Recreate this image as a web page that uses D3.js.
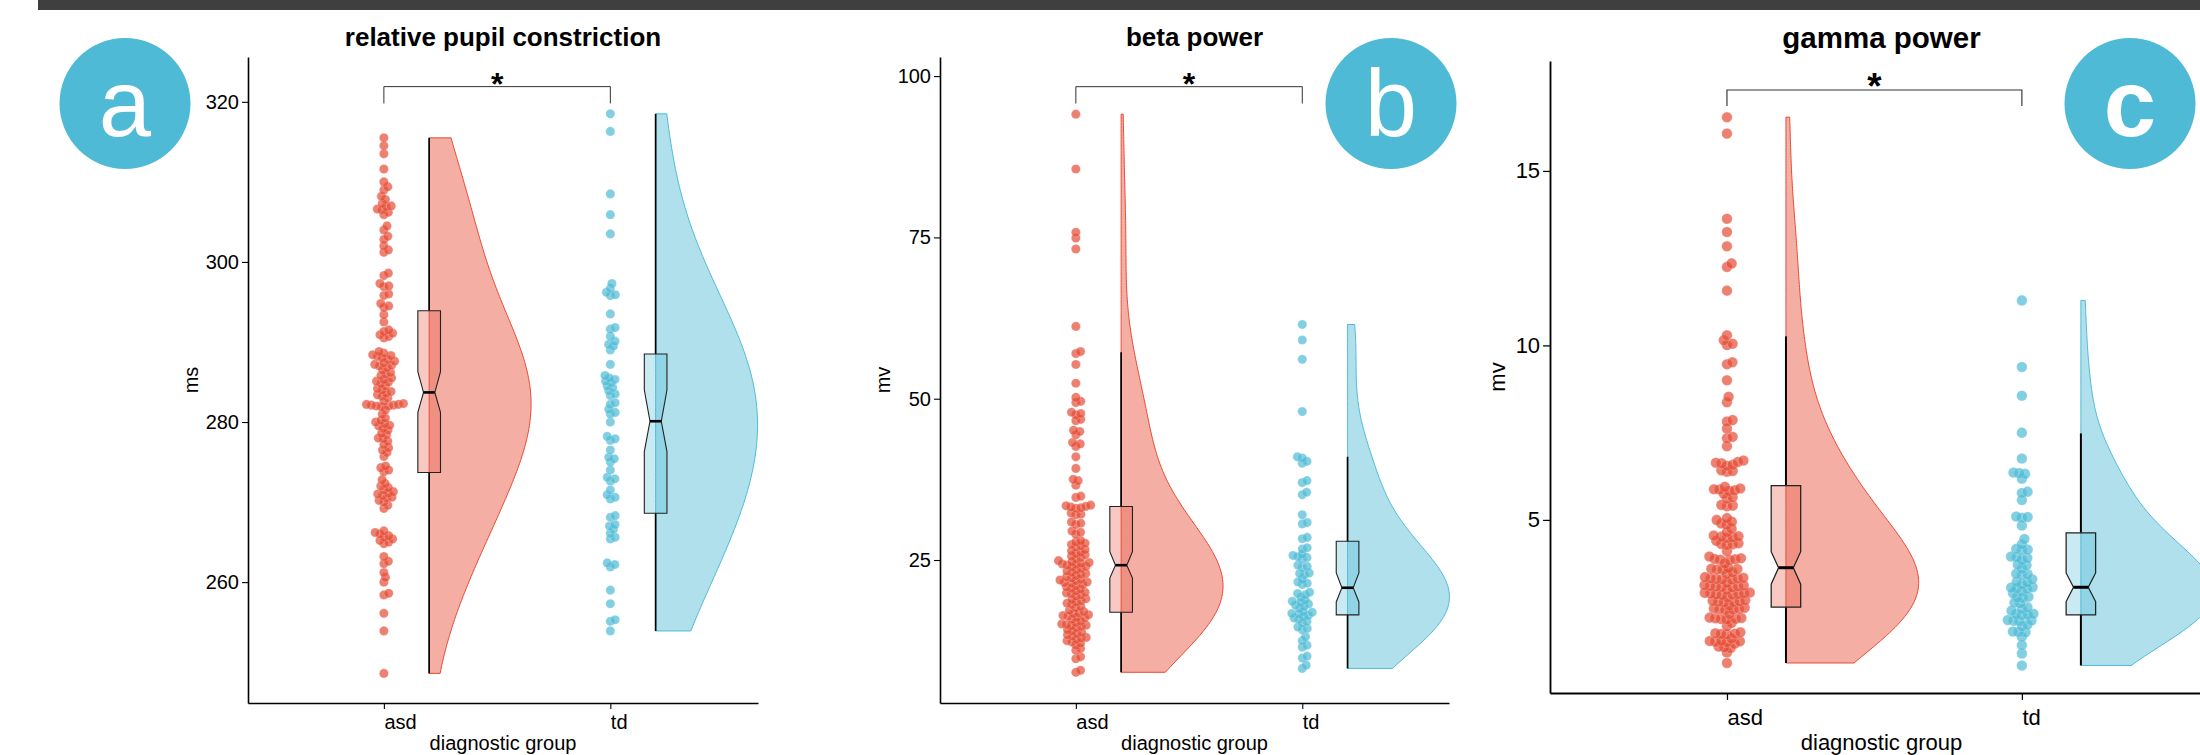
<!DOCTYPE html>
<html>
<head>
<meta charset="utf-8">
<script src="https://cdn.jsdelivr.net/npm/d3@7"></script>
<style>
  body { margin: 0; background: #fff; }
  svg { display: block; }
  text { font-family: "Liberation Sans", Arial, Helvetica, sans-serif; }
</style>
</head>
<body>
<svg width="2200" height="755"></svg>
<script>
const groups = ["asd", "td"];
const titles = ["relative pupil constriction", "beta power", "gamma power"];
const yLabels = ["ms", "mv", "mv"];
const badges = ["a", "b", "c"];
const yTicks = [[260, 280, 300, 320], [25, 50, 75, 100], [5, 10, 15]];
const xLabel = "diagnostic group";

// values
const pupilAsd = [315.5, 314.5, 313.5, 311.6, 310.0, 309.4, 309.0, 308.2, 307.8, 307.3, 307.0, 306.9, 306.6, 306.5, 306.2, 305.9, 304.5, 304.0, 303.2, 302.8, 302.0, 301.5, 301.2,
  298.6, 298.3, 297.3, 297.0, 296.9, 296.0, 295.8, 294.8, 294.5, 294.3, 293.4, 292.5, 291.5, 291.3, 291.1, 290.9, 290.7, 290.5,
  288.8, 288.6, 288.4, 288.3, 288.2, 288.0, 287.8, 287.6, 287.4, 287.2, 287.1, 287.0, 286.8, 286.5, 286.2, 286.0, 285.8, 285.5, 285.3, 285.1, 285.0, 284.8, 284.5, 284.2, 284.0, 283.8, 283.6, 283.4, 283.2, 283.0,
  282.6, 282.0, 282.1, 282.1, 282.2, 282.2, 282.3, 282.0, 281.9, 281.5,
  281.0, 280.5, 280.2, 280.0, 279.8, 279.6, 279.5, 279.2, 279.0, 278.6, 278.4, 278.0, 277.9, 277.6, 277.2, 276.8, 276.5, 276.2, 275.7,
  274.5, 274.3, 274.0, 273.8, 272.8,
  272.3, 272.0, 271.8, 271.5, 271.3, 271.1, 271.0, 270.8, 270.6, 270.5, 270.2, 270.0, 269.6, 269.2,
  266.4, 266.2, 266.0, 265.8, 265.6, 265.4, 265.2, 265.0, 264.8,
  263.2, 262.6, 262.3, 261.2, 260.6, 260.0, 258.6, 258.4, 256.1, 253.9, 248.6];
const pupilTd = [318.5, 316.3, 308.5, 305.9, 303.5, 297.3, 296.7, 296.2, 295.9, 295.8, 293.5, 291.8, 291.6, 290.7, 290.1, 289.7, 289.5, 289.0, 287.2,
  285.8, 285.5, 285.3, 285.1, 284.9, 284.5, 284.3, 283.9, 283.5, 283.3, 282.4, 282.2, 281.6, 281.2, 281.0, 280.0, 278.2, 277.9, 277.7, 276.5,
  275.6, 275.4, 275.0, 274.0, 273.1, 272.9, 272.6, 271.5, 270.9, 270.6, 270.4, 268.3, 268.1, 267.2, 267.0, 266.6, 266.1, 265.6, 265.4,
  262.4, 262.2, 261.9, 259.0, 257.3, 255.3, 255.1, 253.9];
const betaAsd = [94.1, 85.6, 75.8, 74.9, 73.2, 61.2, 57.3, 57.0, 55.3, 52.4, 50.2, 49.6, 49.4, 47.9, 47.7, 47.5, 46.8, 46.6, 45.1, 44.9, 44.4, 43.2, 43.0, 42.6, 41.0, 39.2, 37.5, 37.3, 36.6, 34.9, 34.7,
  33.5, 33.4, 33.3, 33.2, 33.1, 33.0, 32.3, 32.1, 32.0, 30.9, 30.7, 30.5, 29.5, 29.3, 29.0,
  28.0, 27.8, 27.6, 27.4, 27.2, 27.0, 26.6, 26.4, 26.2, 26.0, 25.8, 25.6, 25.4, 25.2, 24.9, 24.7, 24.6, 24.5, 24.4, 24.3, 24.2, 24.0, 23.9, 23.7, 23.5,
  23.3, 23.1, 22.9, 22.8, 22.6, 22.4, 22.2, 22.0, 21.9, 21.8, 21.6, 21.5, 21.4, 21.2, 21.0, 20.8, 20.6, 20.5, 20.2, 20.0, 19.9, 19.8, 19.6, 19.4, 19.0,
  18.9, 18.7, 18.5, 18.3, 18.1, 17.8, 17.6, 17.2, 17.0, 16.8, 16.7, 16.5, 16.4, 16.3, 16.1, 16.0, 15.8, 15.5, 15.3, 15.1, 15.0, 14.9, 14.8, 14.7, 14.5,
  14.2, 14.0, 13.8, 13.6, 13.4, 13.2, 13.0, 12.9, 12.7, 12.5, 12.3, 12.1, 11.8, 11.3, 11.0, 10.0, 9.7, 7.9, 7.6];
const betaTd = [61.5, 59.1, 56.1, 48.0, 41.0, 40.8, 40.3, 40.0, 37.3, 37.0, 35.5, 35.1, 32.0, 30.8, 30.6, 28.5, 28.3, 26.9, 26.7, 25.9, 25.7, 25.5, 25.4, 25.1,
  24.2, 24.0, 23.8, 23.0, 22.9, 22.7, 22.0, 21.6, 21.4, 21.2, 20.0, 19.8, 19.6, 19.2, 18.8, 18.6, 18.4, 18.2, 18.0, 17.8, 17.5,
  17.0, 16.9, 16.7, 16.6, 16.4, 16.2, 16.0, 15.8, 15.5, 15.2, 14.6, 14.4, 14.2, 13.1, 12.5, 11.8, 11.5, 10.1, 9.8, 8.7, 8.2];
const gammaAsd = [16.54, 16.07, 13.63, 13.25, 12.84, 12.35, 12.25, 11.57, 10.29, 10.15, 10.05, 10.01, 9.52, 9.46, 9.00, 8.53, 8.37, 7.86, 7.82, 7.62, 7.38, 7.34, 7.11,
  6.70, 6.66, 6.64, 6.62, 6.58, 6.55, 6.42, 6.40, 6.38,
  5.95, 5.90, 5.88, 5.87, 5.85, 5.83, 5.75, 5.65, 5.61, 5.43, 5.41, 5.39,
  5.05, 5.00, 4.95, 4.90, 4.86, 4.75, 4.65, 4.55, 4.53, 4.52, 4.50, 4.48, 4.40, 4.33, 4.31, 4.30, 4.28, 4.10,
  3.95, 3.90, 3.88, 3.87, 3.86, 3.85, 3.75, 3.62, 3.60, 3.59, 3.58, 3.57, 3.50, 3.45,
  3.36, 3.34, 3.33, 3.32, 3.31, 3.30, 3.29, 3.20, 3.13, 3.12, 3.11, 3.10, 3.09, 3.08, 3.07, 3.00,
  2.92, 2.91, 2.90, 2.89, 2.88, 2.87, 2.86, 2.85, 2.78, 2.70, 2.68, 2.67, 2.66, 2.65, 2.64, 2.55,
  2.48, 2.46, 2.45, 2.44, 2.43, 2.42, 2.30, 2.20, 2.19, 2.18, 2.17, 2.16, 2.15, 2.05, 1.95,
  1.78, 1.75, 1.74, 1.73, 1.72, 1.60, 1.54, 1.53, 1.52, 1.51, 1.50, 1.45, 1.37, 1.35, 1.33, 1.20, 0.90];
const gammaTd = [11.29, 9.38, 8.56, 7.50, 6.76, 6.36, 6.34, 6.32, 6.18, 5.81, 5.77, 5.57, 5.10, 5.08, 5.06, 4.84, 4.45, 4.30,
  4.17, 4.15, 4.13, 3.95, 3.93, 3.91, 3.85, 3.72, 3.70, 3.60, 3.46, 3.44, 3.42, 3.30, 3.23, 3.21, 3.15, 3.07, 3.06, 3.04, 3.03,
  2.95, 2.90, 2.80, 2.78, 2.76, 2.63, 2.61, 2.50, 2.45, 2.40, 2.31, 2.30, 2.28, 2.27, 2.13, 2.12, 2.11, 2.10, 2.00, 1.95,
  1.80, 1.79, 1.78, 1.65, 1.41, 1.17, 0.83];

// box stats: [lower whisker, q1, notch low, median, notch high, q3, upper whisker]
const pupilBoxAsd = [248.6, 273.7, 281.2, 283.7, 286.3, 293.9, 315.5];
const pupilBoxTd = [253.9, 268.6, 276.3, 280.1, 284.0, 288.5, 318.5];
const betaBoxAsd = [7.6, 16.9, 22.2, 24.2, 26.3, 33.3, 57.2];
const betaBoxTd = [8.2, 16.5, 18.5, 20.7, 23.0, 27.9, 41.0];
const gammaBoxAsd = [0.90, 2.50, 3.16, 3.63, 4.09, 5.98, 10.26];
const gammaBoxTd = [0.83, 2.28, 2.66, 3.07, 3.48, 4.63, 7.48];

// significance bracket, in data units: [line level, tick end]
const brackets = [[321.9, 319.8], [98.36, 95.75], [17.32, 16.86]];
const sigLabel = "*";

const values = [[pupilAsd, pupilTd], [betaAsd, betaTd], [gammaAsd, gammaTd]];
const boxes = [[pupilBoxAsd, pupilBoxTd], [betaBoxAsd, betaBoxTd], [gammaBoxAsd, gammaBoxTd]];

const colors = ["#E64B35", "#4DBBD5"];
const bwAdjust = 1.9;

const layout = [
  { left: 248, right: 758, top: 57, bottom: 703, yDomain: [244.9, 325.6], xDomain: [0.4, 2.652], k: 1, font: 20, titleSize: 26, titleY: 46, yLabelX: 198, tickPad: 6, xTitleY: 750, badge: [125, 103.5] },
  { left: 940, right: 1449, top: 57, bottom: 703, yDomain: [2.84, 102.96], xDomain: [0.4, 2.648], k: 1, font: 20, titleSize: 26, titleY: 46, yLabelX: 889.7, tickPad: 6, xTitleY: 750, badge: [1391, 103.5] },
  { left: 1550, right: 2213, top: 61, bottom: 693, yDomain: [0.04, 18.15], xDomain: [0.4, 2.648], k: 1.15, font: 22, titleSize: 29.5, titleY: 48, yLabelX: 1505, tickPad: 9, xTitleY: 749.5, badge: [2130, 103.5] }
];

const svg = d3.select("svg");

svg.append("rect")
  .attr("x", 38).attr("y", 0)
  .attr("width", 2200 - 38).attr("height", 10)
  .attr("fill", "#3f3f3f");

function nrd0(v) {
  const s = v.slice().sort(d3.ascending);
  const iqr = d3.quantileSorted(s, 0.75) - d3.quantileSorted(s, 0.25);
  const sd = d3.deviation(v);
  return 0.9 * Math.min(sd, iqr / 1.34) * Math.pow(v.length, -0.2);
}

function kde(v, bw, lo, hi, n = 200) {
  return d3.range(n).map(i => {
    const t = lo + (hi - lo) * i / (n - 1);
    const d = d3.mean(v, x => Math.exp(-0.5 * ((t - x) / bw) ** 2));
    return [t, d];
  });
}

function swarm(v, y, spacing) {
  const placed = [];
  v.map(d => ({ v: d, y: y(d) }))
    .sort((a, b) => b.y - a.y)
    .forEach(p => {
      const near = placed.filter(q => Math.abs(q.y - p.y) < spacing);
      const cands = [0];
      near.forEach(q => {
        const dx = Math.sqrt(spacing * spacing - (q.y - p.y) ** 2);
        cands.push(q.x + dx, q.x - dx);
      });
      cands.sort((a, b) => Math.abs(a) - Math.abs(b));
      p.x = cands.find(c => near.every(q => (q.x - c) ** 2 + (q.y - p.y) ** 2 >= spacing * spacing - 1e-6));
      placed.push(p);
    });
  return placed;
}

layout.forEach((L, pi) => {
  const k = L.k;
  const g = svg.append("g");
  const x = d3.scaleLinear().domain(L.xDomain).range([L.left, L.right]);
  const y = d3.scaleLinear().domain(L.yDomain).range([L.bottom, L.top]);
  const unit = x(2) - x(1);
  const r = 4.6 * k;

  groups.forEach((grp, gi) => {
    const v = values[pi][gi];
    const b = boxes[pi][gi];
    const col = colors[gi];
    const cx = x(gi + 1);
    const bx = x(gi + 1.2);

    // half violin
    const bw = nrd0(v) * bwAdjust;
    const dens = kde(v, bw, d3.min(v), d3.max(v));
    const maxD = d3.max(dens, d => d[1]);
    const vw = 0.45 * unit;
    const area = d3.area()
      .y(d => y(d[0]))
      .x0(bx)
      .x1(d => bx + vw * d[1] / maxD);
    g.append("path")
      .datum(dens)
      .attr("d", d => area(d) + "Z")
      .attr("fill", col).attr("fill-opacity", 0.45)
      .attr("stroke", col).attr("stroke-width", 1);

    // whiskers
    g.append("line")
      .attr("x1", bx).attr("x2", bx)
      .attr("y1", y(b[5])).attr("y2", y(b[6]))
      .attr("stroke", "#000").attr("stroke-width", 1.7 * k);
    g.append("line")
      .attr("x1", bx).attr("x2", bx)
      .attr("y1", y(b[1])).attr("y2", y(b[0]))
      .attr("stroke", "#000").attr("stroke-width", 1.7 * k);

    // notched box
    const hw = 0.05 * unit;
    const nw = hw / 2;
    const pts = [
      [bx - hw, y(b[5])], [bx + hw, y(b[5])], [bx + hw, y(b[4])], [bx + nw, y(b[3])],
      [bx + hw, y(b[2])], [bx + hw, y(b[1])], [bx - hw, y(b[1])], [bx - hw, y(b[2])],
      [bx - nw, y(b[3])], [bx - hw, y(b[4])]
    ];
    g.append("path")
      .attr("d", d3.line()(pts) + "Z")
      .attr("fill", col).attr("fill-opacity", 0.3)
      .attr("stroke", "#222").attr("stroke-width", 1.1 * k);
    g.append("line")
      .attr("x1", bx - nw).attr("x2", bx + nw)
      .attr("y1", y(b[3])).attr("y2", y(b[3]))
      .attr("stroke", "#000").attr("stroke-width", 2.6 * k);

    // dots
    const pts2 = swarm(v, y, r * 1.1);
    g.append("g").selectAll("circle")
      .data(pts2)
      .join("circle")
      .attr("cx", d => cx + d.x)
      .attr("cy", d => d.y)
      .attr("r", r)
      .attr("fill", col).attr("fill-opacity", 0.7)
      .attr("stroke", "#fff").attr("stroke-opacity", 0.35).attr("stroke-width", 0.6);
  });

  // axes
  const yAxis = d3.axisLeft(y).tickValues(yTicks[pi]).tickSize(6 * k).tickPadding(3).tickSizeOuter(0);
  const ya = g.append("g").attr("transform", `translate(${L.left},0)`).call(yAxis);
  const xAxis = d3.axisBottom(x).tickValues([1, 2]).tickFormat(d => groups[d - 1])
    .tickSize(6 * k).tickPadding(L.tickPad).tickSizeOuter(0);
  const xa = g.append("g").attr("transform", `translate(0,${L.bottom})`).call(xAxis);
  [ya, xa].forEach(a => {
    a.select(".domain").attr("stroke", "#000").attr("stroke-width", 1.6 * k);
    a.selectAll(".tick line").attr("stroke", "#000").attr("stroke-width", 1.1 * k);
    a.selectAll(".tick text").attr("fill", "#000").attr("font-size", L.font)
      .attr("font-family", '"Liberation Sans", Arial, sans-serif');
  });
  xa.selectAll(".tick text").attr("text-anchor", "start");

  // titles
  g.append("text")
    .attr("x", (L.left + L.right) / 2).attr("y", L.titleY)
    .attr("text-anchor", "middle")
    .attr("font-size", L.titleSize).attr("font-weight", "bold")
    .text(titles[pi]);
  g.append("text")
    .attr("x", (L.left + L.right) / 2).attr("y", L.xTitleY)
    .attr("text-anchor", "middle")
    .attr("font-size", L.font)
    .text(xLabel);
  g.append("text")
    .attr("transform", `translate(${L.yLabelX},${(L.top + L.bottom) / 2}) rotate(-90)`)
    .attr("text-anchor", "middle")
    .attr("font-size", L.font)
    .text(yLabels[pi]);

  // significance bracket
  const br = brackets[pi];
  g.append("path")
    .attr("d", d3.line()([[x(1), y(br[1])], [x(1), y(br[0])], [x(2), y(br[0])], [x(2), y(br[1])]]))
    .attr("fill", "none").attr("stroke", "#333").attr("stroke-width", 1 * k);
  g.append("text")
    .attr("x", (x(1) + x(2)) / 2).attr("y", y(br[0]) + 8 * k)
    .attr("text-anchor", "middle")
    .attr("font-size", 32 * k).attr("font-weight", "bold")
    .text(sigLabel);

  // panel badge
  svg.append("circle")
    .attr("cx", L.badge[0]).attr("cy", L.badge[1]).attr("r", 65.5)
    .attr("fill", "#4EBAD6");
  svg.append("text")
    .attr("x", L.badge[0]).attr("y", 136)
    .attr("text-anchor", "middle")
    .attr("font-family", '"Open Sans", sans-serif')
    .attr("font-weight", pi === 2 ? 600 : 400)
    .attr("font-size", 94)
    .attr("fill", "#fff")
    .text(badges[pi]);
});
</script>
</body>
</html>
